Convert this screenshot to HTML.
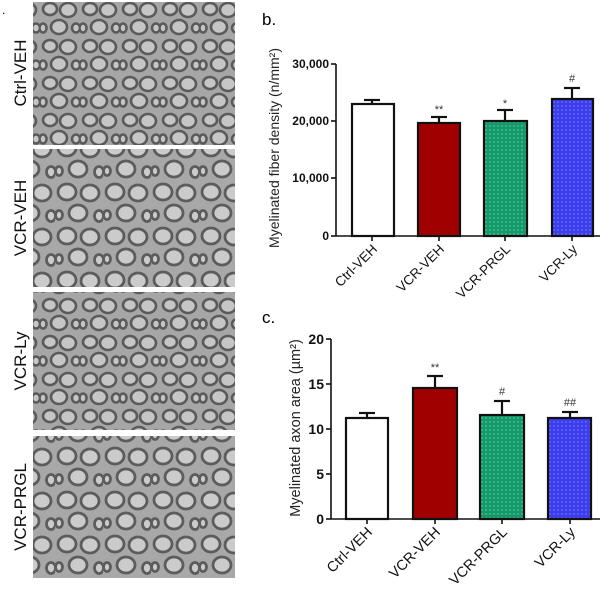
<!DOCTYPE html>
<html><head><meta charset="utf-8"><style>
html,body{margin:0;padding:0;background:#fff;width:600px;height:600px;overflow:hidden}
svg{display:block;font-family:"Liberation Sans",sans-serif}
</style></head><body>
<svg width="600" height="600" viewBox="0 0 600 600" xmlns="http://www.w3.org/2000/svg">
<defs>
<pattern id="nv" width="40" height="37" patternUnits="userSpaceOnUse">
<rect width="40" height="37" fill="#a6a6a6"/>
<g fill="#c6c6c6" stroke="#5a5a5a" stroke-width="2.6">
<ellipse cx="10" cy="9" rx="7" ry="6"/>
<ellipse cx="28" cy="10" rx="8" ry="7"/>
<ellipse cx="19" cy="27" rx="8" ry="7"/>
<ellipse cx="36" cy="28" rx="4" ry="4.5"/>
<ellipse cx="3" cy="28" rx="3.5" ry="4.5"/>
</g>
</pattern>
<pattern id="nv2" width="48" height="44" patternUnits="userSpaceOnUse" patternTransform="translate(7,5)">
<rect width="48" height="44" fill="#a8a8a8"/>
<g fill="#cbcbcb" stroke="#5c5c5c" stroke-width="2.8">
<ellipse cx="12" cy="11" rx="9" ry="8"/>
<ellipse cx="35" cy="12" rx="9" ry="8"/>
<ellipse cx="23" cy="32" rx="9" ry="8"/>
<ellipse cx="44" cy="35" rx="4.5" ry="5.5"/>
<ellipse cx="4" cy="34" rx="3.5" ry="4.5"/>
</g>
</pattern>
<pattern id="dg" width="4" height="4" patternUnits="userSpaceOnUse"><rect width="4" height="4" fill="#139a6b"/><circle cx="2" cy="2" r="0.7" fill="#7fd0b0"/></pattern>
<pattern id="db" width="4" height="4" patternUnits="userSpaceOnUse"><rect width="4" height="4" fill="#3d3df0"/><circle cx="2" cy="2" r="0.7" fill="#8a8aff"/></pattern>
</defs>
<text x="2" y="14" font-size="12">.</text>
<rect x="33" y="2" width="202" height="143" fill="url(#nv)"/>
<rect x="33" y="149" width="202" height="138" fill="url(#nv2)"/>
<rect x="33" y="292" width="202" height="138" fill="url(#nv)"/>
<rect x="33" y="436" width="202" height="142" fill="url(#nv2)"/>
<g font-size="17" fill="#111" text-anchor="middle">
<text transform="translate(26,73) rotate(-90)">Ctrl-VEH</text>
<text transform="translate(26,218) rotate(-90)">VCR-VEH</text>
<text transform="translate(26,361) rotate(-90)">VCR-Ly</text>
<text transform="translate(26,507) rotate(-90)">VCR-PRGL</text>
</g>
<!-- chart b -->
<text x="262" y="25" font-size="17">b.</text>
<text transform="translate(279,148) rotate(-90)" font-size="14" text-anchor="middle" fill="#222">Myelinated fiber density (n/mm²)</text>
<g stroke="#111" stroke-width="1.6" fill="none">
<line x1="336" y1="64" x2="336" y2="236"/>
<line x1="336" y1="236" x2="600" y2="236"/>
<line x1="331" y1="64" x2="336" y2="64"/><line x1="331" y1="121" x2="336" y2="121"/><line x1="331" y1="178" x2="336" y2="178"/><line x1="331" y1="236" x2="336" y2="236"/>
<line x1="372" y1="236" x2="372" y2="241"/><line x1="439" y1="236" x2="439" y2="241"/><line x1="505" y1="236" x2="505" y2="241"/><line x1="572" y1="236" x2="572" y2="241"/>
</g>
<g font-size="12" font-weight="bold" text-anchor="end" fill="#111">
<text x="329" y="68">30,000</text><text x="329" y="125">20,000</text><text x="329" y="182">10,000</text><text x="329" y="240">0</text>
</g>
<g stroke="#111" stroke-width="2.2">
<line x1="372" y1="104" x2="372" y2="100"/><line x1="364" y1="100" x2="380" y2="100"/>
<line x1="439" y1="123" x2="439" y2="117"/><line x1="431" y1="117" x2="447" y2="117"/>
<line x1="505" y1="121" x2="505" y2="110"/><line x1="497" y1="110" x2="513" y2="110"/>
<line x1="572" y1="99" x2="572" y2="88"/><line x1="564" y1="88" x2="580" y2="88"/>
<rect x="352" y="104" width="42" height="132" fill="#fff"/>
<rect x="418" y="123" width="42" height="113" fill="#a00000"/>
<rect x="484" y="121" width="43" height="115" fill="url(#dg)"/>
<rect x="552" y="99" width="41" height="137" fill="url(#db)"/>
</g>
<g font-size="11" text-anchor="middle" fill="#333">
<text x="439" y="113">**</text><text x="505" y="107">*</text><text x="572" y="82">#</text>
</g>
<g font-size="13.5" text-anchor="end" fill="#111">
<text transform="translate(378,250) rotate(-45)">Ctrl-VEH</text>
<text transform="translate(445,250) rotate(-45)">VCR-VEH</text>
<text transform="translate(511,250) rotate(-45)">VCR-PRGL</text>
<text transform="translate(578,250) rotate(-45)">VCR-Ly</text>
</g>
<!-- chart c -->
<text x="262" y="323" font-size="17">c.</text>
<text transform="translate(300,428) rotate(-90)" font-size="14.5" text-anchor="middle" fill="#222">Myelinated axon area (µm²)</text>
<g stroke="#111" stroke-width="1.6" fill="none">
<line x1="331" y1="339" x2="331" y2="519"/>
<line x1="331" y1="519" x2="600" y2="519"/>
<line x1="326" y1="339" x2="331" y2="339"/><line x1="326" y1="384" x2="331" y2="384"/><line x1="326" y1="429" x2="331" y2="429"/><line x1="326" y1="474" x2="331" y2="474"/><line x1="326" y1="519" x2="331" y2="519"/>
<line x1="367" y1="519" x2="367" y2="524"/><line x1="435" y1="519" x2="435" y2="524"/><line x1="502" y1="519" x2="502" y2="524"/><line x1="570" y1="519" x2="570" y2="524"/>
</g>
<g font-size="14" font-weight="bold" text-anchor="end" fill="#111">
<text x="324" y="344">20</text><text x="324" y="389">15</text><text x="324" y="434">10</text><text x="324" y="479">5</text><text x="324" y="524">0</text>
</g>
<g stroke="#111" stroke-width="2.2">
<line x1="367" y1="418" x2="367" y2="413"/><line x1="359" y1="413" x2="375" y2="413"/>
<line x1="435" y1="388" x2="435" y2="376"/><line x1="427" y1="376" x2="443" y2="376"/>
<line x1="502" y1="415" x2="502" y2="401"/><line x1="494" y1="401" x2="510" y2="401"/>
<line x1="570" y1="418" x2="570" y2="412"/><line x1="562" y1="412" x2="578" y2="412"/>
<rect x="346" y="418" width="42" height="101" fill="#fff"/>
<rect x="413" y="388" width="44" height="131" fill="#a00000"/>
<rect x="480" y="415" width="44" height="104" fill="url(#dg)"/>
<rect x="548" y="418" width="43" height="101" fill="url(#db)"/>
</g>
<g font-size="11" text-anchor="middle" fill="#333">
<text x="435" y="371">**</text><text x="502" y="395">#</text><text x="570" y="406">##</text>
</g>
<g font-size="14.5" text-anchor="end" fill="#111">
<text transform="translate(373,533) rotate(-45)">Ctrl-VEH</text>
<text transform="translate(441,533) rotate(-45)">VCR-VEH</text>
<text transform="translate(508,533) rotate(-45)">VCR-PRGL</text>
<text transform="translate(576,533) rotate(-45)">VCR-Ly</text>
</g>
</svg>
</body></html>
